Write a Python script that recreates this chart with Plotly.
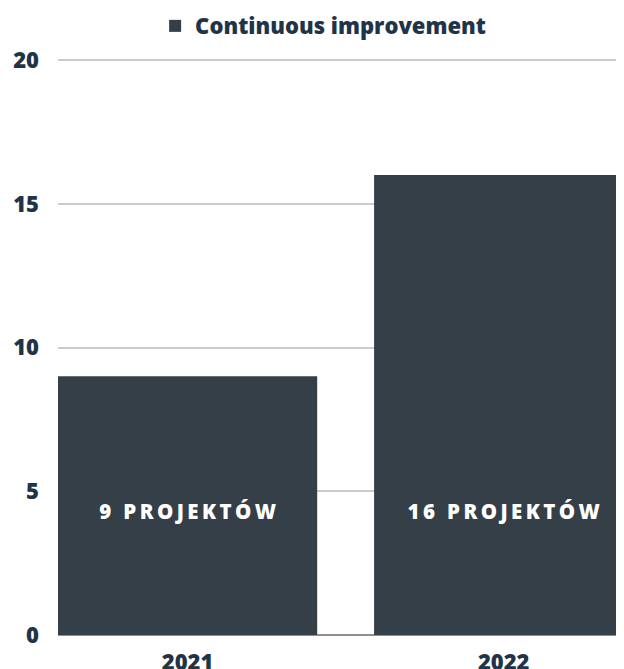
import plotly.graph_objects as go

years = ["2021", "2022"]
projects = [9, 16]
bar_labels = ["9 PROJEKTÓW", "16 PROJEKTÓW"]
label_level = [4.2, 4.2]
series_name = "Continuous improvement"
y_ticks = [0, 5, 10, 15, 20]

BAR_COLOR = "#343f48"
TEXT_COLOR = "#1f3449"
FONT = "Open Sans"


def spaced(s):
    # imitate CSS letter-spacing with thin spaces
    return "\u2009".join(s)


fig = go.Figure()
fig.add_trace(go.Bar(
    x=years,
    y=projects,
    name=series_name,
    marker=dict(color=BAR_COLOR, line=dict(width=0)),
    width=0.82,
    hoverinfo="skip",
))

# labels sit low inside the bars
fig.add_trace(go.Scatter(
    x=years, y=label_level, mode="text",
    text=[spaced(s) for s in bar_labels],
    textfont=dict(family=FONT, size=20.5, color="white", weight=800),
    showlegend=False, hoverinfo="skip",
))

# page body has an 8px margin, so the margins here are 8px smaller
fig.update_layout(
    width=624, height=669,
    margin=dict(l=50, r=0, t=51, b=42, autoexpand=False),
    paper_bgcolor="white", plot_bgcolor="white",
    font=dict(family=FONT, size=22, color=TEXT_COLOR, weight=800),
    showlegend=True,
    legend=dict(
        orientation="h", x=0.505, xref="container", xanchor="center",
        y=0.973, yanchor="middle", yref="container",
        font=dict(size=22, weight=800, color=TEXT_COLOR),
        itemwidth=30,
    ),
    xaxis=dict(
        type="category", range=[-0.41, 1.406], showgrid=False, automargin=False,
        showline=False, ticks="", ticklabelstandoff=12,
        tickfont=dict(size=22, weight=800),
    ),
    yaxis=dict(
        # a hair above 20 so the top gridline is not dropped at the edge
        range=[0, 20.04], tickvals=y_ticks, gridcolor="#c8ccd1", gridwidth=2,
        zeroline=True, zerolinecolor="#8c9096", zerolinewidth=2, automargin=False,
        ticks="", ticklabelstandoff=18, tickfont=dict(size=22, weight=800),
    ),
)

fig.write_html("out.html")
